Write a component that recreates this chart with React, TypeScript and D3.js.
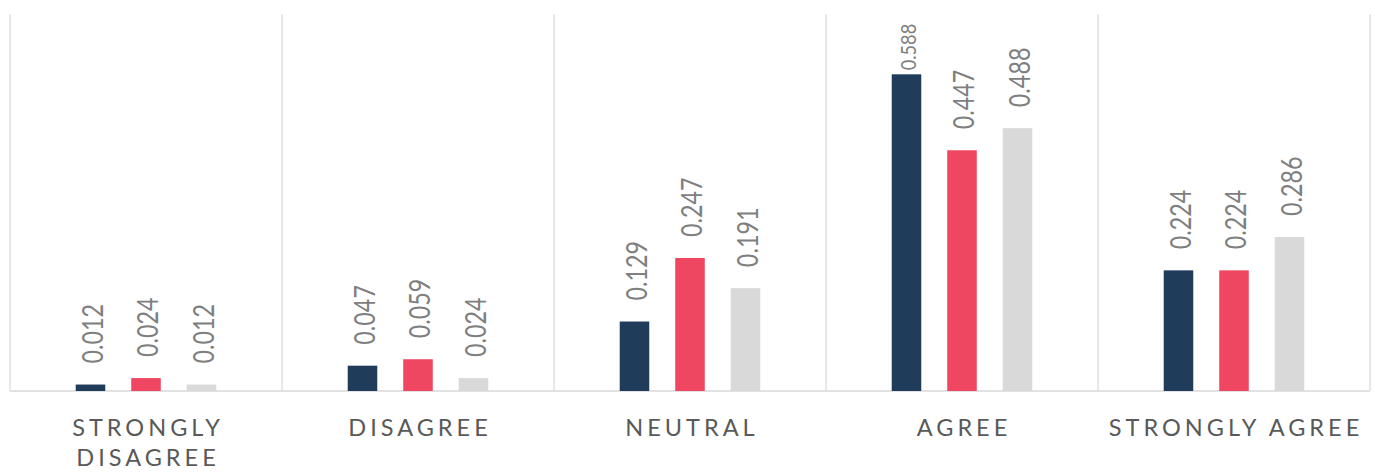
import React, { useEffect, useRef } from "react";
import * as d3 from "d3";

const categories = ["STRONGLY DISAGREE", "DISAGREE", "NEUTRAL", "AGREE", "STRONGLY AGREE"];
const seriesNames = ["Series 1", "Series 2", "Series 3"];
const series1 = [0.012, 0.047, 0.129, 0.588, 0.224];
const series2 = [0.024, 0.059, 0.247, 0.447, 0.224];
const series3 = [0.012, 0.024, 0.191, 0.488, 0.286];
const seriesValues = [series1, series2, series3];
const colors = ["#1F3C5B", "#EF4661", "#D9D9D9"];
const yMax = 0.7;

const W = 1375;
const H = 472;
const left = 10;
const right = 1370;
const top = 14;
const baseY = 391;

export default function App() {
  const ref = useRef<SVGSVGElement>(null);
  useEffect(() => {
    const svg = d3.select(ref.current);
    svg.selectAll("*").remove();
    const x = d3.scaleBand<string>().domain(categories).range([left, right]).paddingInner(0).paddingOuter(0);
    const xi = d3
      .scaleBand<string>()
      .domain(seriesNames)
      .range([0, x.step()])
      .paddingInner(0.468)
      .paddingOuter(1.184);
    const y = d3.scaleLinear().domain([0, yMax]).range([baseY, top]);

    // separators
    const seps = d3.range(categories.length + 1).map((i) => left + i * x.step());
    svg
      .selectAll("line.sep")
      .data(seps)
      .enter()
      .append("line")
      .attr("x1", (d) => d)
      .attr("x2", (d) => d)
      .attr("y1", top)
      .attr("y2", baseY)
      .attr("stroke", "#D9D9D9")
      .attr("stroke-width", 1.2);

    // baseline
    svg
      .append("line")
      .attr("x1", left)
      .attr("x2", right)
      .attr("y1", baseY)
      .attr("y2", baseY)
      .attr("stroke", "#D9D9D9")
      .attr("stroke-width", 1.5);

    const labelFont = 24;
    seriesValues.forEach((vals, si) => {
      const name = seriesNames[si];
      vals.forEach((v, ci) => {
        const bx = (x(categories[ci]) as number) + (xi(name) as number);
        const bw = xi.bandwidth();
        const by = y(v);
        svg
          .append("rect")
          .attr("x", bx)
          .attr("y", by)
          .attr("width", bw)
          .attr("height", baseY - by)
          .attr("fill", colors[si]);
        const cx = bx + bw / 2;
        const txt = svg
          .append("text")
          .text(v.toFixed(3))
          .attr("font-family", "Lato, sans-serif")
          .attr("font-size", labelFont)
          .attr("fill", "#7F7F7F")
          .attr("text-anchor", "start");
        const len = (txt.node() as SVGTextElement).getComputedTextLength();
        let sx = 60 / 61.7;
        let sy = 1.17;
        let gap = 21;
        if (by - gap - len * sx < 12) {
          sx *= 0.78;
          sy *= 0.75;
          gap = 4;
        }
        const thick = labelFont * 0.72 * sy;
        txt.attr(
          "transform",
          `translate(${cx + thick / 2 + 2},${by - gap}) rotate(-90) scale(${sx},${sy})`
        );
      });
    });

    // category labels
    const ls = 4;
    categories.forEach((c) => {
      const cx = (x(c) as number) + x.step() / 2;
      const mk = (s: string, yy: number) =>
        svg
          .append("text")
          .text(s)
          .attr("font-family", "Lato, sans-serif")
          .attr("font-size", 23.5)
          .attr("letter-spacing", ls)
          .attr("fill", "#595959")
          .attr("text-anchor", "middle")
          .attr("x", cx + ls / 2)
          .attr("y", yy);
      const t = mk(c, 436);
      const len = (t.node() as SVGTextElement).getComputedTextLength();
      if (len > x.step() - 2) {
        t.remove();
        const words = c.split(" ");
        words.forEach((w, i) => mk(w, 436 + i * 30));
      }
    });
  }, []);
  return (
    <svg
      ref={ref}
      width={W}
      height={H}
      style={{ position: "absolute", left: 0, top: 0, background: "#fff" }}
    />
  );
}
